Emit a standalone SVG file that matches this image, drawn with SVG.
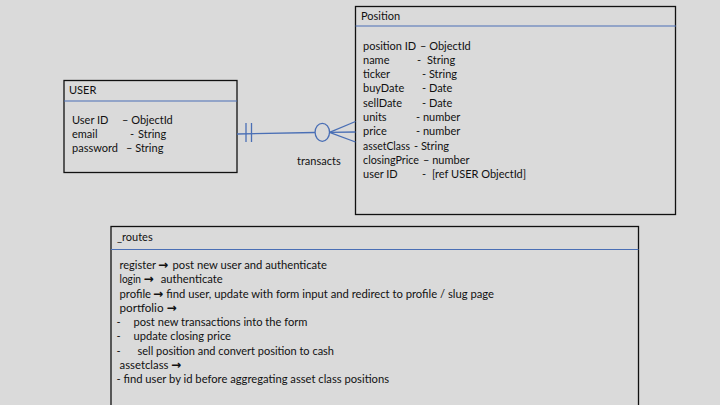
<svg xmlns="http://www.w3.org/2000/svg" width="720" height="405" viewBox="0 0 720 405">
<style>
text{font-family:Lato,"Liberation Sans",Arial,sans-serif;font-size:11px;fill:#111}
.ar{font-family:"DejaVu Sans",sans-serif;font-size:12px;font-weight:bold}
.box{fill:none;stroke:#111;stroke-width:1.3}
.hdr{stroke:#4a6fb5;stroke-width:1.2}
.conn{fill:none;stroke:#4a6fb5;stroke-width:1.3}
</style>
<rect width="720" height="405" fill="#dadada"/>

<g id="user">
<rect class="box" x="64" y="80.5" width="173" height="92"/>
<line class="hdr" x1="64" y1="101" x2="237" y2="101"/>
<text x="69" y="94">USER</text>
<text y="124"><tspan x="72">User ID</tspan><tspan x="122">– ObjectId</tspan></text>
<text y="137.5"><tspan x="72">email</tspan><tspan x="130">-</tspan><tspan x="138">String</tspan></text>
<text y="151.5"><tspan x="72">password</tspan><tspan x="126">– String</tspan></text>
</g>

<g id="position">
<rect class="box" x="355.5" y="6.5" width="320" height="208"/>
<line class="hdr" x1="355.5" y1="26" x2="676" y2="26"/>
<text x="361" y="20">Position</text>
<text y="49.5"><tspan x="363">position ID</tspan><tspan x="420">– ObjectId</tspan></text>
<text y="63.5"><tspan x="363">name</tspan><tspan x="417">-</tspan><tspan x="427">String</tspan></text>
<text y="78"><tspan x="363">ticker</tspan><tspan x="422">- String</tspan></text>
<text y="92.2"><tspan x="363">buyDate</tspan><tspan x="422">- Date</tspan></text>
<text y="106.5"><tspan x="363">sellDate</tspan><tspan x="422">- Date</tspan></text>
<text y="121"><tspan x="363">units</tspan><tspan x="416">- number</tspan></text>
<text y="135"><tspan x="363">price</tspan><tspan x="416">- number</tspan></text>
<text x="363" y="149.5" textLength="47" lengthAdjust="spacingAndGlyphs">assetClass</text>
<text x="414" y="149.5">- String</text>
<text x="363" y="164" textLength="56" lengthAdjust="spacingAndGlyphs">closingPrice</text>
<text x="423" y="164">– number</text>
<text y="178"><tspan x="363">user ID</tspan><tspan x="422">-</tspan><tspan x="432">[ref USER ObjectId]</tspan></text>
</g>

<g id="routes">
<rect class="box" x="111" y="226.5" width="527.5" height="200"/>
<line class="hdr" x1="111" y1="249.5" x2="638.5" y2="249.5"/>
<text x="117" y="241">_routes</text>
<text x="119.5" y="269" textLength="36.5" lengthAdjust="spacingAndGlyphs">register</text>
<text class="ar" x="158" y="269">→</text>
<text x="172.5" y="269" textLength="154.5" lengthAdjust="spacingAndGlyphs">post new user and authenticate</text>
<text x="119.5" y="283.3" textLength="21.5" lengthAdjust="spacingAndGlyphs">login</text>
<text class="ar" x="143.5" y="283.3">→</text>
<text x="160.7" y="283.3" textLength="62" lengthAdjust="spacingAndGlyphs">authenticate</text>
<text x="119.5" y="297.5" textLength="31.5" lengthAdjust="spacingAndGlyphs">profile</text>
<text class="ar" x="153" y="297.5">→</text>
<text x="166.3" y="297.5" textLength="327.7" lengthAdjust="spacingAndGlyphs">find user, update with form input and redirect to profile / slug page</text>
<text x="119.5" y="311.7" textLength="44" lengthAdjust="spacingAndGlyphs">portfolio</text>
<text class="ar" x="166.5" y="311.7">→</text>
<text x="116.5" y="326">-</text>
<text x="133.5" y="326" textLength="174" lengthAdjust="spacingAndGlyphs">post new transactions into the form</text>
<text x="116.5" y="340.2">-</text>
<text x="133.5" y="340.2" textLength="97.5" lengthAdjust="spacingAndGlyphs">update closing price</text>
<text x="116.5" y="354.5">-</text>
<text x="137.5" y="354.5" textLength="196.5" lengthAdjust="spacingAndGlyphs">sell position and convert position to cash</text>
<text x="119.5" y="368.7" textLength="49" lengthAdjust="spacingAndGlyphs">assetclass</text>
<text class="ar" x="171" y="368.7">→</text>
<text x="116.5" y="383" textLength="272.5" lengthAdjust="spacingAndGlyphs">- find user by id before aggregating asset class positions</text>
</g>

<g id="connectors">
<line class="conn" x1="237" y1="134" x2="315" y2="132.5"/>
<line class="conn" x1="246" y1="123" x2="246" y2="142"/>
<line class="conn" x1="251.5" y1="123" x2="251.5" y2="142"/>
<ellipse class="conn" cx="322.3" cy="132.3" rx="7.2" ry="9"/>
<line class="conn" x1="329.5" y1="132.3" x2="355.5" y2="121.5"/>
<line class="conn" x1="329.5" y1="132.3" x2="355.5" y2="132"/>
<line class="conn" x1="329.5" y1="132.3" x2="355.5" y2="142"/>
<text x="297" y="164.5">transacts</text>
</g>
</svg>
